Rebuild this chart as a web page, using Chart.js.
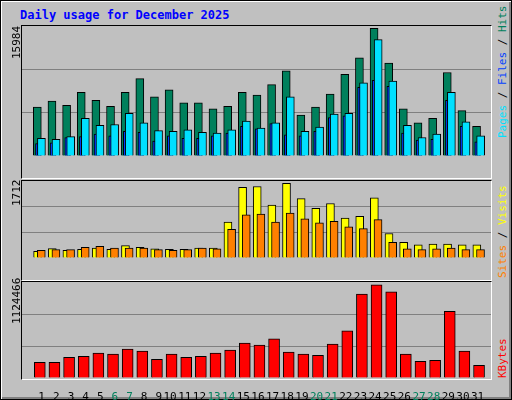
<!DOCTYPE html>
<html>
<head>
<meta charset="utf-8">
<script src="https://cdn.jsdelivr.net/npm/chart.js@4/dist/chart.umd.min.js"></script>
<style>
  body { margin: 0; background: #c0c0c0; }
  #frame { position: relative; width: 510px; height: 398px; border: 1px solid #000; background: #c0c0c0;
    box-shadow: inset 1px 1px 0 #fff, inset -2px -2px 0 #808080; font-family: "DejaVu Sans Mono", monospace; }
  .panel { position: absolute; left: 20px; width: 469px; border-top: 1px solid #000; border-left: 1px solid #000;
    border-right: 1px solid #fff; border-bottom: 1px solid #fff; pointer-events: none; z-index: 2; }
  canvas { position: absolute; left: 21px; }
  .title { position: absolute; left: 19px; top: 7px; color: #0000ff; font-weight: bold; font-size: 12px; }
  .vl { position: absolute; transform: rotate(-90deg); transform-origin: left top; white-space: nowrap; font-size: 11px; }
</style>
</head>
<body>
<div id="frame">
  <div class="title">Daily usage for December 2025</div>
  <div class="panel" style="top:24px;height:152px"></div>
  <div class="panel" style="top:179px;height:99px"></div>
  <div class="panel" style="top:280px;height:97px"></div>
  <canvas id="c1" width="469" height="152" style="top:25px"></canvas>
  <canvas id="c2" width="469" height="99" style="top:180px"></canvas>
  <canvas id="c3" width="469" height="118" style="top:281px"></canvas>
  <div class="vl" style="left:9px;top:58px">15984</div>
  <div class="vl" style="left:9px;top:205px">1712</div>
  <div class="vl" style="left:9px;top:323px">1124466</div>
  <div class="vl" style="left:495px;top:137px"><span style="color:#00e0ff">Pages</span> / <span style="color:#0040ff">Files</span> / <span style="color:#00805c">Hits</span></div>
  <div class="vl" style="left:495px;top:277px"><span style="color:#ff8000">Sites</span> / <span style="color:#ffff00">Visits</span></div>
  <div class="vl" style="left:495px;top:377px;color:#ff0000">KBytes</div>
</div>
<script>
const days = Array.from({ length: 31 }, (_, i) => i + 1);
const weekendDays = [6, 7, 13, 14, 20, 21, 27, 28];

const hits = [6111, 6870, 6328, 7955, 6979, 6220, 7955, 9691, 7413, 8281, 6654, 6654, 5894, 6220, 7955, 7630,
  8932, 10667, 5135, 6111, 7738, 10233, 12294, 15984, 11644, 5894, 4158, 4701, 10450, 5677, 3725];
const pages = [2206, 2097, 2423, 4701, 3833, 3941, 5352, 4158, 3182, 3074, 3291, 2965, 2857, 3291, 4375, 3508,
  4158, 7413, 3074, 3616, 5243, 5352, 9148, 14572, 9365, 3833, 2314, 2748, 7955, 4267, 2531];
const files = [1555, 1663, 2314, 2423, 2748, 2531, 3074, 2965, 1880, 2531, 2206, 2206, 2531, 2857, 3725, 3399,
  4050, 2640, 2531, 3074, 4809, 5026, 8606, 9474, 8715, 2857, 1989, 2097, 6979, 3725, 1772];
const visits = [155, 216, 173, 198, 229, 198, 284, 247, 210, 198, 198, 229, 229, 822, 1619, 1638,
  1211, 1712, 1360, 1137, 1248, 915, 952, 1378, 562, 358, 303, 321, 321, 303, 303];
const sites = [173, 192, 192, 247, 266, 229, 229, 229, 192, 173, 192, 229, 210, 655, 989, 1007,
  822, 1026, 896, 803, 840, 711, 674, 878, 358, 210, 192, 210, 229, 192, 192];
const kbytes = [188784, 188784, 250344, 262656, 299592, 287280, 348840, 324216, 225720, 287280, 250344, 262656,
  299592, 336528, 422712, 398088, 471960, 311904, 287280, 274968, 410400, 570456, 1013688, 1124466, 1038312,
  287280, 201096, 213408, 804384, 324216, 151848];

function pts(values, shift) {
  return values.map((v, i) => ({ x: days[i] + shift, y: v }));
}

function bars(values, shift, color, width, order) {
  return {
    data: pts(values, shift),
    backgroundColor: color,
    borderColor: "#000",
    borderWidth: 1,
    borderSkipped: "bottom",
    barThickness: width,
    grouped: false,
    order,
  };
}

function makeChart(id, datasets, yMax, showDays) {
  return new Chart(document.getElementById(id), {
    type: "bar",
    data: { datasets },
    options: {
      responsive: false,
      animation: false,
      devicePixelRatio: 1,
      layout: { padding: 0 },
      plugins: { legend: { display: false }, tooltip: { enabled: false } },
      scales: {
        x: {
          type: "linear",
          min: 0.5,
          max: 31.5,
          display: showDays,
          grid: { display: false },
          border: { display: false },
          afterBuildTicks: (scale) => { scale.ticks = days.map((d) => ({ value: d + 0.1 })); },
          afterFit: (scale) => { scale.height = 22; },
          ticks: {
            autoSkip: false,
            maxRotation: 0,
            padding: 5,
            font: { family: "DejaVu Sans Mono", size: 11 },
            color: (ctx) => (weekendDays.includes(Math.round(ctx.tick.value)) ? "#00805c" : "#000"),
            callback: (v) => String(Math.round(v)).padStart(2, " "),
          },
        },
        y: {
          min: 0,
          max: yMax,
          ticks: { display: false, stepSize: yMax / 3 },
          border: { display: false },
          grid: {
            drawTicks: false,
            color: (ctx) => (ctx.index === 0 || ctx.index === 3 ? "rgba(0,0,0,0)" : "#808080"),
          },
        },
      },
    },
  });
}

makeChart("c1", [
  bars(files, 0.11, "#0040ff", 6, 1),
  bars(pages, 0.31, "#00e0ff", 8, 0),
  bars(hits, 0.03, "#00805c", 8, 2),
], Math.max(...hits) * 1.018, false);

makeChart("c2", [
  bars(sites, 0.3, "#ff8000", 8, 0),
  bars(visits, 0.05, "#ffff00", 8, 1),
], Math.max(...visits) * 1.03, false);

makeChart("c3", [
  bars(kbytes, 0.2, "#ff0000", 11, 0),
], Math.max(...kbytes) * 1.03, true);
</script>
</body>
</html>
